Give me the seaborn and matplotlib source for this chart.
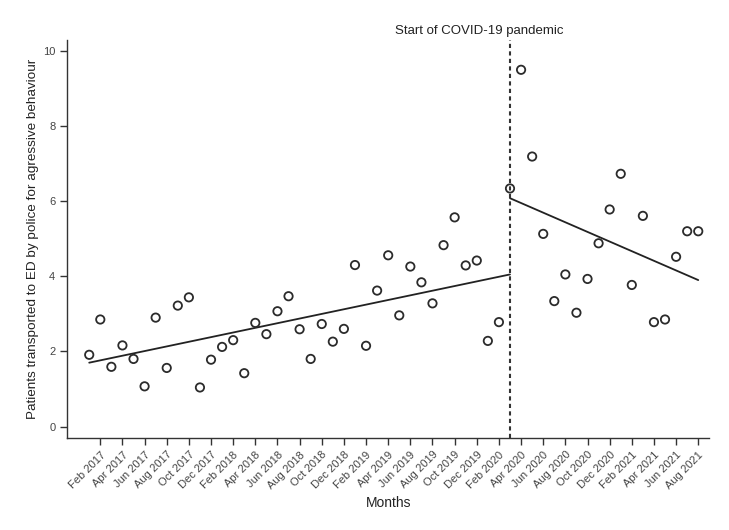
import matplotlib
matplotlib.use("Agg")
import matplotlib.pyplot as plt
import matplotlib.transforms as mtransforms
import seaborn as sns
import pandas as pd

# Monthly values, Jan 2017 .. Aug 2021
months = pd.date_range("2017-01-01", "2021-08-01", freq="MS").strftime("%b %Y").tolist()
patients = [
    1.91, 2.85, 1.59, 2.16, 1.80, 1.07, 2.90, 1.56, 3.22, 3.44, 1.04, 1.78,   # 2017
    2.12, 2.30, 1.42, 2.76, 2.46, 3.07, 3.47, 2.59, 1.80, 2.73, 2.26, 2.60,   # 2018
    4.30, 2.15, 3.62, 4.56, 2.96, 4.26, 3.84, 3.28, 4.83, 5.57, 4.29, 4.42,   # 2019
    2.28, 2.78, 6.34, 9.50, 7.19, 5.13, 3.34, 4.05, 3.03, 3.93, 4.88, 5.78,   # 2020
    6.73, 3.77, 5.61, 2.78, 2.85, 4.52, 5.20, 5.20,                           # 2021
]

# Fitted trend segments (endpoints)
pre_months = ["Jan 2017", "Mar 2020"]
pre_trend = [1.70, 4.05]
post_months = ["Mar 2020", "Aug 2021"]
post_trend = [6.08, 3.90]

pandemic_start = "Mar 2020"
annotation = "Start of COVID-19 pandemic"

tick_labels = [
    "Feb 2017", "Apr 2017", "Jun 2017", "Aug 2017", "Oct 2017", "Dec 2017",
    "Feb 2018", "Apr 2018", "Jun 2018", "Aug 2018", "Oct 2018", "Dec 2018",
    "Feb 2019", "Apr 2019", "Jun 2019", "Aug 2019", "Oct 2019", "Dec 2019",
    "Feb 2020", "Apr 2020", "Jun 2020", "Aug 2020", "Oct 2020", "Dec 2020",
    "Feb 2021", "Apr 2021", "Jun 2021", "Aug 2021",
]
y_ticks = [0, 2, 4, 6, 8, 10]

idx = {m: i for i, m in enumerate(months)}
df = pd.DataFrame({"t": range(len(months)), "patients": patients})
pre_df = pd.DataFrame({"t": [idx[m] for m in pre_months], "v": pre_trend})
post_df = pd.DataFrame({"t": [idx[m] for m in post_months], "v": post_trend})

sns.set_style("ticks")
plt.rcParams["font.family"] = ["Liberation Sans", "DejaVu Sans"]

fig, ax = plt.subplots(figsize=(7.29, 5.30), dpi=100)
fig.subplots_adjust(left=0.092, right=0.973, top=0.925, bottom=0.174)

sns.scatterplot(data=df, x="t", y="patients", ax=ax, marker="o", s=36,
                facecolor="none", edgecolor="#2b2b2b", linewidth=1.3, zorder=3)
sns.lineplot(data=pre_df, x="t", y="v", ax=ax, color="#222222", linewidth=1.3)
sns.lineplot(data=post_df, x="t", y="v", ax=ax, color="#222222", linewidth=1.3)

ax.axvline(idx[pandemic_start], color="#333333", linewidth=1.5,
           linestyle=(0, (2.0, 1.6)), zorder=2)

trans = mtransforms.blended_transform_factory(ax.transData, ax.transAxes)
ax.text(idx[pandemic_start] - 2.8, 1.022, annotation, transform=trans,
        ha="center", va="center", fontsize=9.5, color="#222222")

ax.set_xlim(-2, 56)
ax.set_ylim(-0.3, 10.3)
ax.set_xticks([idx[l] for l in tick_labels])
ax.set_xticklabels(tick_labels, rotation=45, ha="right", rotation_mode="anchor",
                   fontsize=8, color="#444444")
ax.set_yticks(y_ticks)
ax.set_yticklabels([str(v) for v in y_ticks], fontsize=8, color="#444444")
ax.tick_params(axis="both", length=5, width=1, color="#333333")
ax.set_xlabel("Months", fontsize=10, color="#222222")
ax.set_ylabel("Patients transported to ED by police for agressive behaviour",
              fontsize=9.7, color="#222222", labelpad=3)
for s in ["left", "bottom"]:
    ax.spines[s].set_color("#333333")
    ax.spines[s].set_linewidth(1.0)
sns.despine(ax=ax)

fig.savefig("out.png", dpi=100)
